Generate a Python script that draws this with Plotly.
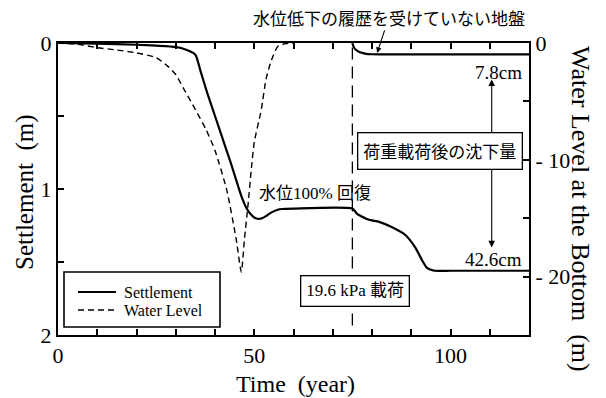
import plotly.graph_objects as go

# --- data -------------------------------------------------------------
# settlement of the drawn-down ground (m)
settle_t = [0, 10, 20, 25, 30, 33, 35, 36.4, 38, 40, 42, 44, 46, 47, 48, 49, 50, 51, 52, 53,
            54.4, 56, 57, 60, 75, 76.2, 77.5, 78.7, 80, 81.8, 85, 88.5, 91, 92.8, 94, 95, 96,
            100, 110, 120]
settle = [0, 0.005, 0.012, 0.018, 0.027, 0.05, 0.08, 0.2, 0.34, 0.5, 0.66, 0.82, 0.99, 1.07,
          1.13, 1.17, 1.195, 1.205, 1.2, 1.185, 1.16, 1.142, 1.137, 1.134, 1.134, 1.17, 1.19,
          1.205, 1.215, 1.225, 1.26, 1.315, 1.4, 1.49, 1.54, 1.553, 1.56, 1.56, 1.56, 1.56]

# settlement of ground with no drawdown history (m), loaded at year 75
fresh_t = [75, 75.3, 75.8, 76.5, 77.5, 78.5, 80, 82, 90, 100, 110, 120]
fresh = [0, 0.025, 0.045, 0.058, 0.068, 0.074, 0.077, 0.078, 0.078, 0.078, 0.078, 0.078]

# water level at the bottom (m)
wl_t = [0, 5, 10, 15, 20, 25, 28, 30, 32, 35, 37.7, 40, 43, 45.4, 46.7, 47.5, 48.4, 49.2,
        50, 51.8, 53, 54.4, 56, 58, 60]
wl = [0, -0.1, -0.4, -0.6, -0.85, -1.25, -2.0, -2.7, -3.9, -5.7, -7.4, -9.2, -12.6, -16.8,
      -19.6, -16.8, -13.9, -11.0, -8.5, -5.7, -3.1, -1.45, -0.3, -0.05, 0]

load_year = 75
load_text = "19.6 kPa 載荷"

x_ticks = [0, 10, 20, 30, 40, 50, 60, 70, 80, 90, 100, 110]
x_labels = ["0", "", "", "", "", "50", "", "", "", "", "100", ""]
y_ticks = [0, 0.5, 1, 1.5, 2]
y_labels = ["0", "", "1", "", "2"]
y2_ticks = [0, -5, -10, -15, -20]
y2_labels = ["0", "", "- 10", "", "- 20"]

# settlement after loading (cm)
plateau = settle[settle_t.index(load_year)]
after_fresh_cm = (fresh[-1] - fresh[0]) * 100
after_old_cm = (settle[-1] - plateau) * 100

SERIF = "Liberation Serif, Noto Sans CJK JP"
JP = "Noto Sans CJK JP, Liberation Serif"
BLACK = "black"

solid = dict(color=BLACK, width=2.2, shape="spline", smoothing=0.6)
dashed = dict(color=BLACK, width=1.4, dash="6px,4px", shape="spline", smoothing=0.6)

fig = go.Figure()
fig.add_trace(go.Scatter(x=settle_t, y=settle, mode="lines", name="Settlement", line=solid))
fig.add_trace(go.Scatter(x=wl_t, y=wl, mode="lines", name="Water Level", yaxis="y2", line=dashed))
fig.add_trace(go.Scatter(x=fresh_t, y=fresh, mode="lines", name="No drawdown history",
                         line=solid))

# loading time marker
fig.add_shape(type="line", xref="x", yref="y", x0=load_year, x1=load_year, y0=0.03, y1=1.95,
              line=dict(color=BLACK, width=1.3, dash="12px,7px"))


def px_x(p):
    return (p - 58) / 471


def px_y(p):
    return (335 - p) / 292


# legend box drawn by hand
fig.add_shape(type="rect", xref="paper", yref="paper", x0=px_x(64), x1=px_x(220),
              y0=px_y(327), y1=px_y(272), line=dict(color=BLACK, width=1.6),
              fillcolor="white", layer="above")
legend_rows = [("Settlement", solid, 292), ("Water Level", dashed, 310)]
ann = []
for label, style, py in legend_rows:
    fig.add_shape(type="line", xref="paper", yref="paper", x0=px_x(78), x1=px_x(116),
                  y0=px_y(py), y1=px_y(py), layer="above",
                  line=dict(color=BLACK, width=style["width"], dash=style.get("dash", "solid")))
    ann.append(dict(x=px_x(122), y=px_y(py), xref="paper", yref="paper", text=label,
                    showarrow=False, xanchor="left", yanchor="middle",
                    font=dict(family=SERIF, size=16, color=BLACK)))

# double arrow for settlement after loading
ann.append(dict(x=110.5, y=0.25, ax=110.5, ay=0.7, xref="x", yref="y", axref="x", ayref="y",
                text="", showarrow=True, arrowhead=2, arrowsize=1.2, arrowwidth=1.1,
                arrowcolor=BLACK))
ann.append(dict(x=110.5, y=1.40, ax=110.5, ay=0.8, xref="x", yref="y", axref="x", ayref="y",
                text="", showarrow=True, arrowhead=2, arrowsize=1.2, arrowwidth=1.1,
                arrowcolor=BLACK))
ann.append(dict(x=97.3, y=0.74, xref="x", yref="y", text="荷重載荷後の沈下量", showarrow=False,
                font=dict(family=JP, size=17, color=BLACK), bgcolor="white",
                bordercolor=BLACK, borderwidth=1.3, borderpad=5))
ann.append(dict(x=118.7, y=0.205, xref="x", yref="y", text=f"{after_fresh_cm:.1f}cm",
                showarrow=False, xanchor="right", font=dict(family=SERIF, size=19, color=BLACK)))
ann.append(dict(x=118.7, y=1.486, xref="x", yref="y", text=f"{after_old_cm:.1f}cm",
                showarrow=False, xanchor="right", font=dict(family=SERIF, size=19, color=BLACK)))
ann.append(dict(x=load_year + 0.7, y=1.70, xref="x", yref="y", text=load_text, showarrow=False,
                font=dict(family=SERIF, size=17, color=BLACK), bgcolor="white",
                bordercolor=BLACK, borderwidth=1.3, borderpad=5))
ann.append(dict(x=50.7, y=1.03, xref="x", yref="y", text="水位100% 回復", showarrow=False,
                xanchor="left", font=dict(family=SERIF, size=17, color=BLACK)))
# ground without drawdown history
ann.append(dict(x=px_x(389), y=px_y(17), xref="paper", yref="paper",
                text="水位低下の履歴を受けていない地盤", showarrow=False,
                xanchor="center", yanchor="middle",
                font=dict(family=JP, size=17, color=BLACK)))
ann.append(dict(x=81.3, y=0.068, xref="x", yref="y", ax=8, ay=-24, text="", showarrow=True,
                arrowhead=2, arrowsize=1, arrowwidth=1.1, arrowcolor=BLACK))
# axis titles
ann.append(dict(x=px_x(25), y=px_y(192), xref="paper", yref="paper", text="Settlement  (m)",
                textangle=-90, showarrow=False, xanchor="center", yanchor="middle",
                font=dict(family=SERIF, size=25, color=BLACK)))
ann.append(dict(x=px_x(581), y=px_y(209), xref="paper", yref="paper",
                text="Water Level at the Bottom  (m)", textangle=90, showarrow=False,
                xanchor="center", yanchor="middle",
                font=dict(family=SERIF, size=26, color=BLACK)))
ann.append(dict(x=px_x(295), y=px_y(384), xref="paper", yref="paper", text="Time  (year)",
                showarrow=False, xanchor="center", yanchor="middle",
                font=dict(family=SERIF, size=24, color=BLACK)))

tick_font = dict(family=SERIF, size=22, color=BLACK)
axis_common = dict(ticks="inside", ticklen=6, tickwidth=1.5, tickcolor=BLACK, showline=True,
                   linewidth=2, linecolor=BLACK, showgrid=False, zeroline=False,
                   tickfont=tick_font)
fig.update_layout(
    width=606, height=398,
    margin=dict(l=58, r=77, t=43, b=63),
    paper_bgcolor="white", plot_bgcolor="white",
    showlegend=False,
    xaxis=dict(range=[0, 120], tickvals=x_ticks, ticktext=x_labels, mirror="ticks",
               **axis_common),
    yaxis=dict(range=[2, 0], tickvals=y_ticks, ticktext=y_labels, **axis_common),
    yaxis2=dict(range=[-25, 0], overlaying="y", side="right", tickvals=y2_ticks,
                ticktext=y2_labels, **axis_common),
    annotations=ann,
)

fig.write_html("out.html")
